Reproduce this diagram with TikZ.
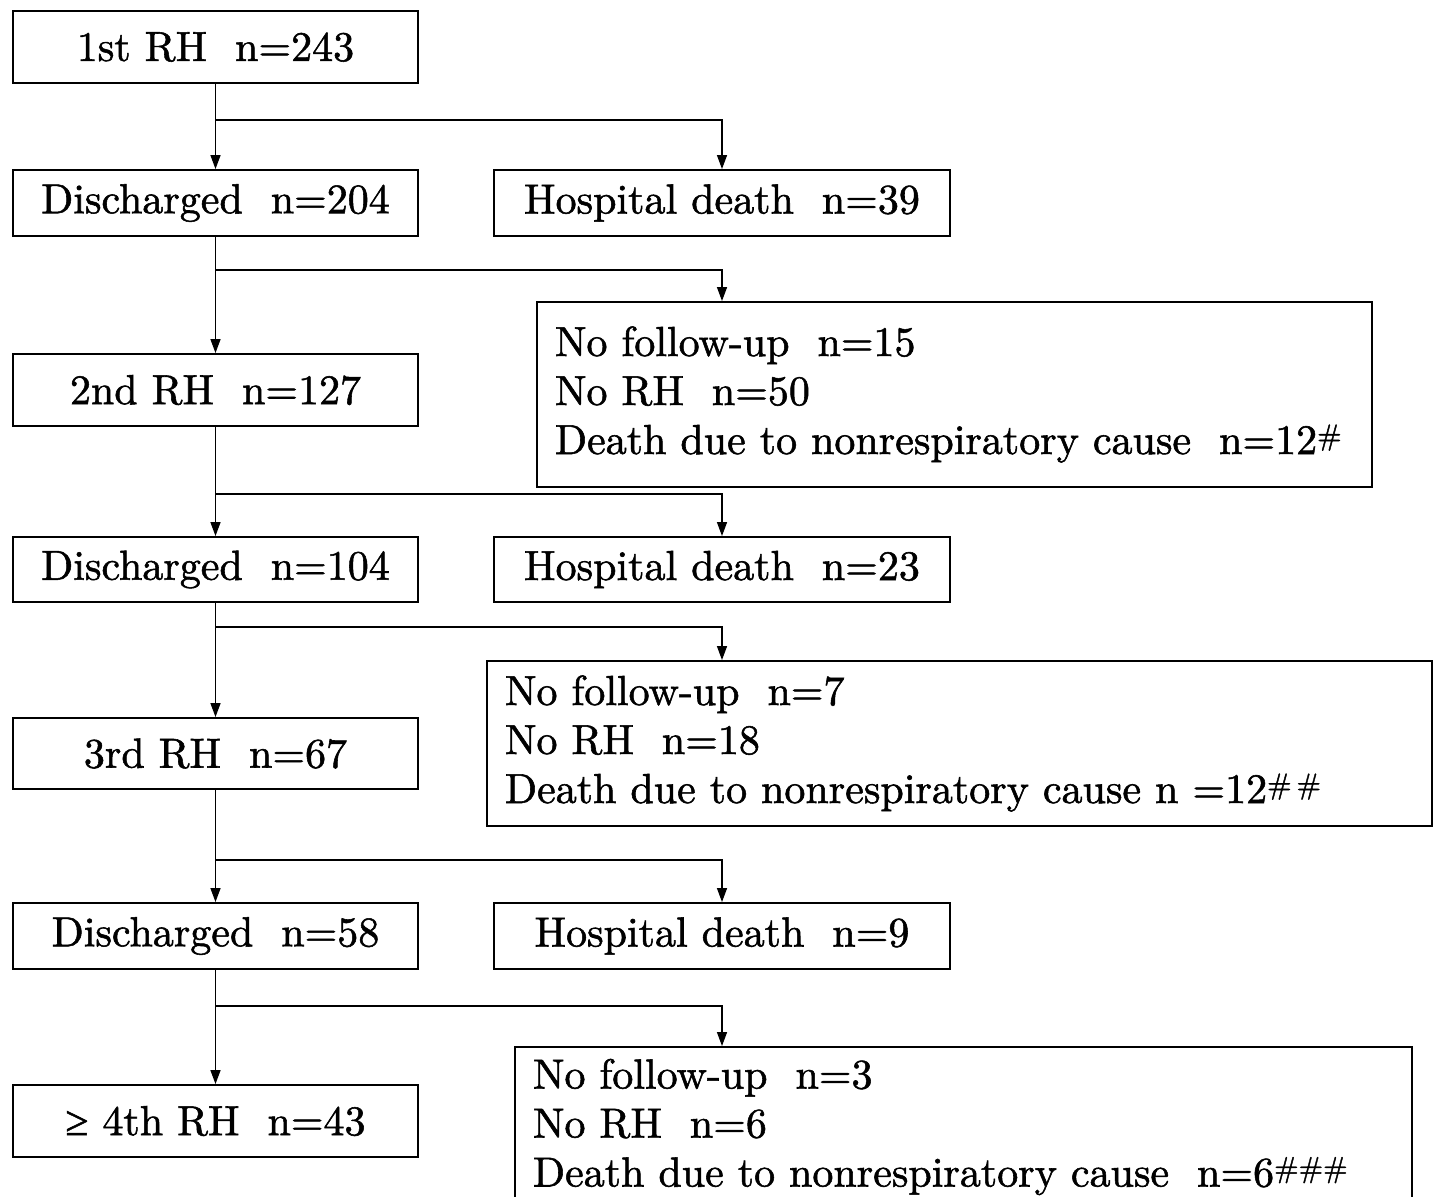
\documentclass[tikz,border=0pt]{standalone}
\usepackage{fontspec}
\setmainfont{lmroman10-regular.otf}[FakeBold=1.3]
\newfontfamily\symfont{Liberation Serif}[FakeBold=1.2]
\usetikzlibrary{arrows.meta, positioning}

\tikzset{
  every node/.style={font=\fontsize{42}{49}\selectfont},
  box/.style={draw, line width=1.9pt, inner sep=0pt, minimum height=70pt},
  stage/.style={box, minimum width=405pt},
  death/.style={box, minimum width=456pt},
  lost/.style={box, align=left, inner xsep=18pt},
  arr/.style={line width=1.4pt, -{Triangle[length=14pt,width=10pt]}}
}

\begin{document}
\begin{tikzpicture}[x=1pt, y=-1pt]
  \useasboundingbox (0,0) rectangle (1434,1196);
  % first round
  \node[stage, minimum height=72pt] (r1) at (215.5,47) {1st RH\ \ n=243};
  \node[stage, minimum height=66pt] (d1) at (215.5,203) {Discharged\ \ n=204};
  \node[death, minimum height=66pt] (h1) at (722,203) {Hospital death\ \ n=39};
  \node[lost, text width=799pt, minimum height=185pt] (f1) at (954.5,394.5)
    {No follow-up\ \ n=15\\ No RH\ \ n=50\\ Death due to nonrespiratory cause\ \ n=12\textsuperscript{\#}};
  % second round
  \node[stage, minimum height=72pt] (r2) at (215.5,390) {2nd RH\ \ n=127};
  \node[stage, minimum height=65pt] (d2) at (215.5,569.5) {Discharged\ \ n=104};
  \node[death, minimum height=65pt] (h2) at (722,569.5) {Hospital death\ \ n=23};
  \node[lost, text width=909pt, minimum height=165pt] (f2) at (959.5,743.5)
    {No follow-up\ \ n=7\\ No RH\ \ n=18\\ Death due to nonrespiratory cause n =12\textsuperscript{\#\,\#}};
  % third round
  \node[stage, minimum height=71pt] (r3) at (215.5,753.5) {3rd RH\ \ n=67};
  \node[stage, minimum height=66pt] (d3) at (215.5,936) {Discharged\ \ n=58};
  \node[death, minimum height=66pt] (h3) at (722,936) {Hospital death\ \ n=9};
  \node[lost, text width=861pt, minimum height=160pt] (f3) at (963.5,1127)
    {No follow-up\ \ n=3\\ No RH\ \ n=6\\ Death due to nonrespiratory cause\ \ n=6\textsuperscript{\#\#\#}};
  \node[stage, minimum height=72pt] (r4) at (215.5,1121) {{\symfont ≥} 4th RH\ \ n=43};

  % branch points
  \coordinate (s1) at (215.5,120);
  \coordinate (s2) at (215.5,270);
  \coordinate (s3) at (215.5,494);
  \coordinate (s4) at (215.5,627);
  \coordinate (s5) at (215.5,860);
  \coordinate (s6) at (215.5,1006);

  \draw[arr] (r1) -- (d1);
  \draw[arr] (s1) -| (h1.north);
  \draw[arr] (d1) -- (r2);
  \draw[arr] (s2) -| (h1.north |- f1.north);
  \draw[arr] (r2) -- (d2);
  \draw[arr] (s3) -| (h2.north);
  \draw[arr] (d2) -- (r3);
  \draw[arr] (s4) -| (h2.north |- f2.north);
  \draw[arr] (r3) -- (d3);
  \draw[arr] (s5) -| (h3.north);
  \draw[arr] (d3) -- (r4);
  \draw[arr] (s6) -| (h3.north |- f3.north);
\end{tikzpicture}
\end{document}
